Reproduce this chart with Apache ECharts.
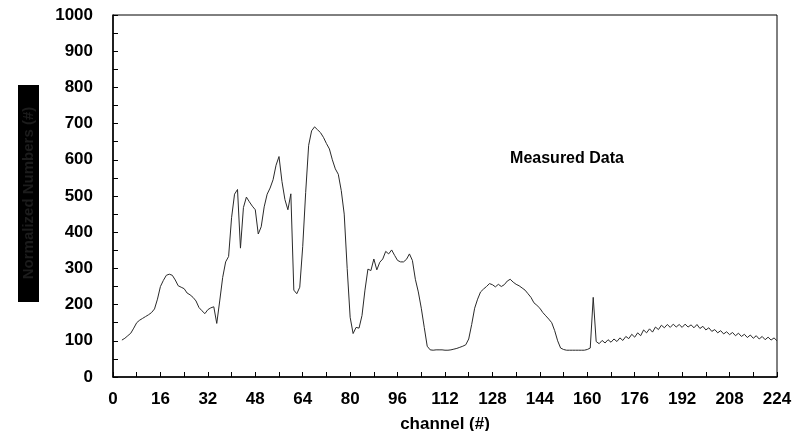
<!DOCTYPE html>
<html>
<head>
<meta charset="utf-8">
<script src="https://cdn.jsdelivr.net/npm/echarts@6/dist/echarts.min.js"></script>
<style>
html,body{margin:0;padding:0;background:#fff;}
#chart{width:792px;height:431px;}
</style>
</head>
<body>
<div id="chart"></div>
<script>
// Data
var channels = [];
for (var c = 3; c <= 224; c++) channels.push(c);
var counts = [
  102,107,114,121,135,150,157,162,167,172,178,188,215,250,267,281,284,281,268,252, // 3-22
  248,244,232,227,220,210,192,183,175,186,191,194,148,210,275,318,333,440,505,518, // 23-42
  356,468,497,484,472,462,395,415,470,505,522,545,585,609,540,490,462,506,240,230, // 43-62
  248,360,510,640,680,691,683,675,662,645,630,600,575,560,515,450,300,165,120,137, // 63-82
  135,170,240,298,294,326,296,317,326,347,340,351,336,322,318,318,325,340,322,270, // 83-102
  235,190,137,85,75,74,75,75,75,74,74,75,77,79,82,85,89,105,145,190,                // 103-122
  215,235,243,250,258,255,249,256,250,255,265,270,262,256,252,246,240,230,220,205,  // 123-142
  198,190,178,169,160,150,128,100,80,76,74,74,74,74,74,74,74,76,80,220,             // 143-162? see below
  98,92,101,94,103,96,105,98,108,101,112,106,118,110,122,114,130,122,133,124,       // 
  138,131,143,136,145,137,146,138,145,137,146,138,144,136,145,134,140,130,136,126,
  131,122,128,119,125,117,123,114,121,112,118,109,116,107,114,105,112,103,110,102,
  108,100
];
var yTicks = ['0','100','200','300','400','500','600','700','800','900','1000'];
var xTicks = ['0','16','32','48','64','80','96','112','128','144','160','176','192','208','224'];
var yTitle = 'Normalized Numbers (#)';
var xTitle = 'channel (#)';
var seriesName = 'Measured Data';

var points = [];
for (var i = 0; i < counts.length && i < channels.length; i++) points.push([channels[i], counts[i]]);

var chart = echarts.init(document.getElementById('chart'), null, {renderer:'canvas'});
var font = '"Liberation Sans", Arial, sans-serif';
chart.setOption({
  animation:false,
  backgroundColor:'#fff',
  grid:{left:113, right:15, top:15, bottom:54, show:true, borderColor:'#000', borderWidth:1, containLabel:false, outerBoundsMode:'none'},
  xAxis:{
    type:'value', min:0, max:224, interval:16,
    axisLine:{show:true, onZero:false, lineStyle:{color:'#000', width:1.5}},
    axisTick:{show:true, inside:true, length:5, lineStyle:{color:'#000'}},
    minorTick:{show:true, splitNumber:2, length:5, lineStyle:{color:'#000'}},
    splitLine:{show:false},
    axisLabel:{margin:14, color:'#000', fontWeight:'bold', fontSize:17, fontFamily:font,
      formatter:function(v){ var s=String(v); return xTicks.indexOf(s)>=0?s:''; }}
  },
  yAxis:{
    type:'value', min:0, max:1000, interval:100,
    axisLine:{show:true, onZero:false, lineStyle:{color:'#000', width:1.5}},
    axisTick:{show:true, inside:true, length:5, lineStyle:{color:'#000'}},
    minorTick:{show:true, splitNumber:2, length:5, lineStyle:{color:'#000'}},
    splitLine:{show:false},
    axisLabel:{margin:20, color:'#000', fontWeight:'bold', fontSize:17, fontFamily:font,
      formatter:function(v){ var s=String(v); return yTicks.indexOf(s)>=0?s:''; }}
  },
  series:[{
    name:seriesName, type:'line', data:points, showSymbol:false, symbol:'none',
    lineStyle:{color:'#2a2a2a', width:1}, silent:true
  }],
  graphic:[
    {type:'rect', left:18, top:85, shape:{width:21, height:217}, style:{fill:'#000'}, silent:true},
    {type:'text', x:29, y:193, rotation:Math.PI/2, style:{text:yTitle, fill:'#1c1c1c', font:'bold 15px '+font, align:'center', verticalAlign:'middle'}},
    {type:'text', x:445, y:424, style:{text:xTitle, fill:'#000', font:'bold 17px '+font, align:'center', verticalAlign:'middle'}},
    {type:'text', x:567, y:159, style:{text:seriesName, fill:'#000', font:'bold 16px '+font, align:'center', verticalAlign:'middle'}}
  ]
});
</script>
</body>
</html>
